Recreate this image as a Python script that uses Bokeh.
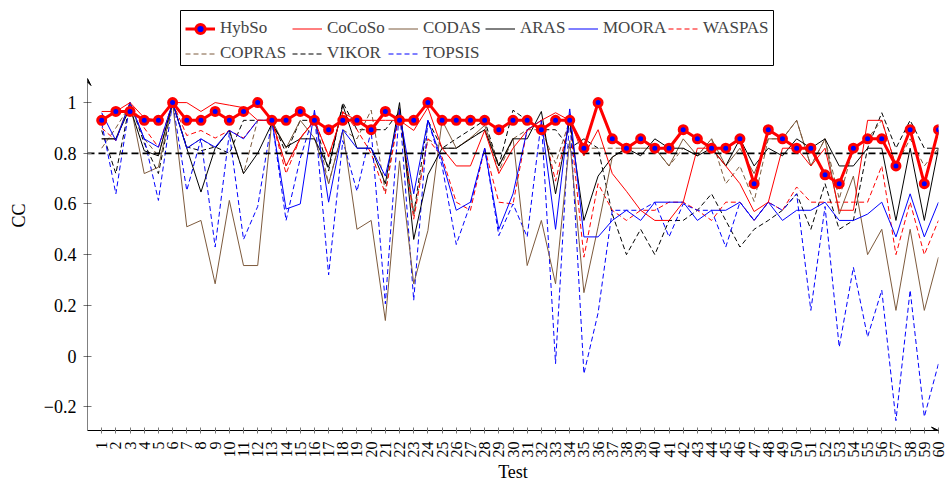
import numpy as np
from bokeh.plotting import figure
from bokeh.models import (Range1d, FixedTicker, Legend, LegendItem, Arrow, VeeHead,
                          BoxAnnotation)
from bokeh.embed import file_html
from bokeh.resources import INLINE

tests = list(range(1, 61))

hybso = [0.93, 0.965, 0.965, 0.93, 0.93, 1.0, 0.93, 0.93, 0.965, 0.93,
         0.965, 1.0, 0.93, 0.93, 0.965, 0.93, 0.893, 0.93, 0.93, 0.893,
         0.965, 0.93, 0.93, 1.0, 0.93, 0.93, 0.93, 0.93, 0.893, 0.93,
         0.93, 0.893, 0.93, 0.93, 0.82, 1.0, 0.857, 0.82, 0.857, 0.82,
         0.82, 0.893, 0.857, 0.82, 0.82, 0.857, 0.68, 0.893, 0.857, 0.82,
         0.82, 0.715, 0.68, 0.82, 0.857, 0.857, 0.75, 0.893, 0.68, 0.893]

cocoso = [0.965, 0.965, 1.0, 0.94, 0.93, 1.0, 1.0, 0.965, 1.0, 0.99,
          0.98, 0.93, 0.93, 0.75, 0.86, 0.93, 0.79, 0.96, 0.93, 0.93,
          0.93, 0.93, 0.89, 0.98, 0.82, 0.75, 0.75, 0.89, 0.72, 0.82,
          0.89, 0.93, 0.96, 0.93, 0.79, 0.893, 0.72, 0.65, 0.575, 0.535,
          0.535, 0.607, 0.82, 0.82, 0.75, 0.68, 0.57, 0.607, 0.82, 0.82,
          0.75, 0.82, 0.575, 0.575, 0.93, 0.93, 0.75, 0.89, 0.68, 0.89]

codas = [0.857, 0.857, 1.0, 0.72, 0.745, 1.0, 0.51, 0.535, 0.285, 0.614,
         0.357, 0.357, 0.93, 0.82, 0.93, 0.86, 0.68, 0.89, 0.50, 0.535,
         0.14, 0.77, 0.285, 0.495, 0.93, 0.82, 0.86, 0.91, 0.75, 0.86,
         0.357, 0.535, 0.285, 0.85, 0.25, 0.51, 0.785, 0.82, 0.82, 0.82,
         0.75, 0.857, 0.79, 0.857, 0.75, 0.82, 0.72, 0.857, 0.857, 0.93,
         0.75, 0.857, 0.56, 0.71, 0.40, 0.50, 0.18, 0.50, 0.18, 0.39]

aras = [0.857, 0.857, 0.98, 0.81, 0.79, 1.0, 0.82, 0.647, 0.82, 0.89,
        0.72, 0.80, 0.917, 0.825, 0.857, 0.857, 0.745, 0.99, 0.82, 0.82,
        0.68, 1.0, 0.46, 0.715, 0.82, 0.82, 0.857, 0.893, 0.75, 0.857,
        0.857, 0.965, 0.64, 0.93, 0.535, 0.71, 0.785, 0.82, 0.79, 0.857,
        0.82, 0.82, 0.79, 0.82, 0.75, 0.857, 0.75, 0.82, 0.79, 0.857,
        0.82, 0.857, 0.75, 0.75, 0.82, 0.82, 0.535, 0.82, 0.535, 0.82]

moora = [0.96, 0.85, 1.0, 0.857, 0.824, 1.0, 0.82, 0.857, 0.824, 0.89,
         0.857, 0.93, 0.93, 0.58, 0.60, 0.97, 0.607, 0.893, 0.82, 0.82,
         0.71, 0.96, 0.64, 0.93, 0.77, 0.575, 0.607, 0.82, 0.50, 0.64,
         0.893, 0.93, 0.50, 0.975, 0.47, 0.47, 0.535, 0.575, 0.535, 0.607,
         0.607, 0.607, 0.535, 0.575, 0.575, 0.607, 0.535, 0.607, 0.535, 0.575,
         0.575, 0.607, 0.535, 0.535, 0.56, 0.607, 0.47, 0.64, 0.47, 0.607]

waspas = [0.90, 0.85, 1.0, 0.90, 0.824, 1.0, 0.87, 0.89, 0.86, 0.89,
          0.86, 0.93, 0.93, 0.72, 0.86, 0.93, 0.785, 0.965, 0.893, 0.80,
          0.64, 0.965, 0.54, 0.857, 0.785, 0.607, 0.575, 0.82, 0.607, 0.60,
          0.893, 0.93, 0.69, 0.93, 0.39, 0.68, 0.575, 0.535, 0.575, 0.575,
          0.607, 0.607, 0.575, 0.535, 0.607, 0.607, 0.535, 0.607, 0.575, 0.667,
          0.607, 0.607, 0.607, 0.607, 0.607, 0.75, 0.40, 0.607, 0.40, 0.535]

copras = [0.82, 0.90, 0.99, 0.857, 0.79, 1.0, 0.82, 0.857, 0.82, 0.893,
          0.72, 0.93, 0.93, 0.75, 0.857, 0.93, 0.68, 0.893, 0.857, 0.97,
          0.65, 0.98, 0.56, 0.857, 0.82, 0.82, 0.86, 0.893, 0.73, 0.857,
          0.893, 0.893, 0.76, 0.93, 0.82, 0.82, 0.82, 0.82, 0.857, 0.82,
          0.75, 0.82, 0.79, 0.857, 0.68, 0.75, 0.61, 0.857, 0.857, 0.93,
          0.75, 0.857, 0.62, 0.82, 0.857, 0.93, 0.75, 0.857, 0.75, 0.82]

vikor = [0.89, 0.72, 1.0, 0.84, 0.72, 1.0, 0.825, 0.81, 0.825, 0.80,
         0.93, 0.93, 0.93, 0.80, 0.93, 0.93, 0.73, 1.0, 0.893, 0.893,
         0.893, 0.965, 0.56, 0.93, 0.82, 0.857, 0.893, 0.93, 0.75, 0.97,
         0.93, 0.893, 0.893, 0.82, 0.857, 0.82, 0.56, 0.40, 0.50, 0.40,
         0.535, 0.535, 0.575, 0.64, 0.535, 0.43, 0.50, 0.535, 0.575, 0.64,
         0.50, 0.68, 0.50, 0.535, 0.82, 0.96, 0.82, 0.93, 0.82, 0.82]

topsis = [0.92, 0.64, 1.0, 0.857, 0.614, 1.0, 0.653, 0.857, 0.43, 0.88,
          0.46, 0.59, 0.93, 0.535, 0.78, 0.96, 0.32, 0.85, 0.65, 0.89,
          0.206, 0.98, 0.22, 0.93, 0.75, 0.44, 0.60, 0.82, 0.475, 0.60,
          0.47, 0.93, -0.03, 0.955, -0.07, 0.17, 0.575, 0.575, 0.575, 0.607,
          0.47, 0.60, 0.575, 0.575, 0.43, 0.607, 0.535, 0.607, 0.575, 0.64,
          0.18, 0.59, 0.035, 0.35, 0.075, 0.26, -0.255, 0.26, -0.24, -0.03]

y_ticks = [-0.2, 0, 0.2, 0.4, 0.6, 0.8, 1]
y_tick_labels = ["\u22120.2", "0", "0.2", "0.4", "0.6", "0.8", "1"]
threshold = 0.8

FONT = "Liberation Serif"
BROWN = "#7d5a3c"
PX_PER_UNIT = 253.4
FRAME_LEFT, FRAME_RIGHT = 87, 938
FRAME_BOTTOM = 430            # pixel row of the x axis
YMIN = -0.294                 # value at the x axis
YARROW = 1.095                # value at the tip of the y-axis arrow
YTOP = YMIN + FRAME_BOTTOM / PX_PER_UNIT   # frame reaches the top of the page (room for legend)


def x_of_px(px):
    return (px - FRAME_LEFT) * 60.0 / (FRAME_RIGHT - FRAME_LEFT)


def y_of_px(py):
    return YMIN + (FRAME_BOTTOM - py) / PX_PER_UNIT


p = figure(width=946, height=484, output_backend="svg", toolbar_location=None,
           x_range=Range1d(0, 60), y_range=Range1d(YMIN, YTOP),
           min_border_left=FRAME_LEFT, min_border_right=946 - FRAME_RIGHT,
           min_border_top=0, min_border_bottom=484 - FRAME_BOTTOM)
p.outline_line_color = None
p.grid.visible = False
p.background_fill_color = "white"

thin = dict(line_width=1)
r_vikor = p.line(tests, vikor, line_color="black", line_dash="5 3", **thin)
r_copras = p.line(tests, copras, line_color=BROWN, line_dash="5 3", **thin)
r_waspas = p.line(tests, waspas, line_color="red", line_dash="5 3", **thin)
r_topsis = p.line(tests, topsis, line_color="blue", line_dash="5 3", **thin)
r_codas = p.line(tests, codas, line_color=BROWN, **thin)
r_aras = p.line(tests, aras, line_color="black", **thin)
r_moora = p.line(tests, moora, line_color="blue", **thin)
r_cocoso = p.line(tests, cocoso, line_color="red", **thin)

p.segment(x0=[0], y0=[threshold], x1=[60], y1=[threshold], line_color="black",
          line_dash="7 4", line_width=1.8)

r_h_line = p.line(tests, hybso, line_color="red", line_width=3)
r_h_pts = p.scatter(tests, hybso, marker="circle", size=8, fill_color="blue",
                    line_color="red", line_width=3)

# axes
p.xaxis.ticker = FixedTicker(ticks=tests)
p.yaxis.ticker = FixedTicker(ticks=y_ticks)
p.yaxis.major_label_overrides = {t: l for t, l in zip(y_ticks, y_tick_labels)}
p.xaxis.major_label_orientation = np.pi / 2
for ax in (p.xaxis, p.yaxis):
    ax.axis_line_color = "black"
    ax.axis_line_width = 1
    ax.major_tick_line_color = "#777777"
    ax.minor_tick_line_color = None
    ax.major_label_text_font = FONT
    ax.major_label_text_color = "black"
    ax.axis_label_text_font = FONT
    ax.axis_label_text_font_style = "normal"
    ax.axis_label_text_color = "black"
p.yaxis.axis_line_color = None
p.xaxis.major_tick_in = 3
p.xaxis.major_tick_out = 3
p.yaxis.major_tick_in = 4
p.yaxis.major_tick_out = 4
p.xaxis.major_label_text_font_size = "16px"
p.yaxis.major_label_text_font_size = "18px"
p.xaxis.axis_label_text_font_size = "18px"
p.yaxis.axis_label_text_font_size = "18px"
p.xaxis.axis_label = "Test"
p.yaxis.axis_label = "CC"
p.yaxis.major_label_standoff = 7
p.yaxis.axis_label_standoff = 12
p.xaxis.major_label_standoff = 8
p.xaxis.axis_label_standoff = 1

# axis lines with arrow heads
p.add_layout(Arrow(end=VeeHead(size=7, line_color="black", fill_color="black", line_width=1),
                   x_start=0, y_start=YMIN, x_end=0, y_end=YARROW,
                   line_color="black", line_width=1))
p.add_layout(Arrow(end=VeeHead(size=7, line_color="black", fill_color="black", line_width=1),
                   x_start=59, y_start=YMIN, x_end=60, y_end=YMIN,
                   line_color="black", line_width=1))

# legend frame
p.add_layout(BoxAnnotation(left=x_of_px(180), right=x_of_px(773),
                           top=y_of_px(10), bottom=y_of_px(65),
                           fill_color="white", fill_alpha=1.0,
                           line_color="black", line_width=1, line_alpha=1.0))

# legend columns (one small legend per column, aligned like a 6 x 2 grid)
ITEM_H = 23
GAP = 2
ROW1_TOP = 16.5
common = dict(label_text_font=FONT, label_text_font_size="17px", glyph_width=30,
              glyph_height=ITEM_H, label_height=ITEM_H, label_standoff=5,
              spacing=GAP, padding=0, margin=0, border_line_color=None,
              background_fill_alpha=0)
columns = [
    (185, [("HybSo", [r_h_line, r_h_pts]), ("COPRAS", [r_copras])]),
    (292, [("CoCoSo", [r_cocoso]), ("VIKOR", [r_vikor])]),
    (388, [("CODAS", [r_codas]), ("TOPSIS", [r_topsis])]),
    (485, [("ARAS", [r_aras])]),
    (568, [("MOORA", [r_moora])]),
    (668, [("WASPAS", [r_waspas])]),
]
for px, entries in columns:
    n = len(entries)
    height = n * ITEM_H + (n - 1) * GAP
    bottom_px = ROW1_TOP + height
    leg = Legend(items=[LegendItem(label=lab, renderers=rs) for lab, rs in entries],
                 orientation="vertical",
                 location=(px - FRAME_LEFT, FRAME_BOTTOM - bottom_px), **common)
    p.add_layout(leg, "center")

open("out.html", "w").write(file_html(p, INLINE))
